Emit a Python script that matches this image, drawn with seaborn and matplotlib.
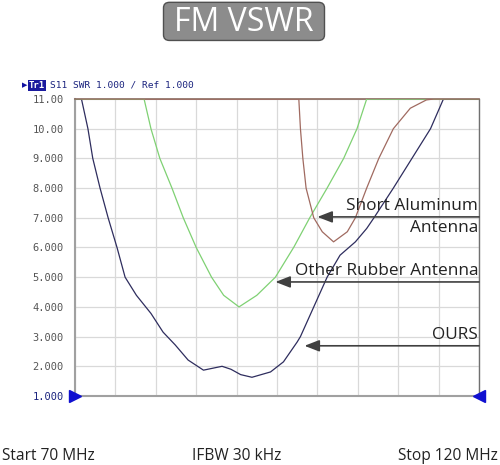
import numpy as np
import pandas as pd
import matplotlib
matplotlib.use("Agg")
import matplotlib.pyplot as plt
import seaborn as sns
from matplotlib.patches import FancyBboxPatch

# frequency (MHz) / SWR points
ours_f = [70.0, 70.8, 71.6, 72.2, 73.1, 74.1, 75.2, 76.2, 77.6, 79.4, 80.9, 82.4, 84.0,
          85.9, 88.2, 89.3, 90.5, 91.9, 94.2, 95.8, 97.5, 97.9, 99.55, 101.2, 102.8,
          104.7, 106.1, 107.0, 109.4, 111.7, 114.0, 115.6, 120.0]
ours_s = [11.0, 11.0, 10.0, 9.0, 8.0, 7.0, 6.0, 5.0, 4.39, 3.78, 3.15, 2.72, 2.21,
          1.87, 2.0, 1.9, 1.72, 1.63, 1.81, 2.15, 2.82, 3.0, 4.0, 5.0, 5.74,
          6.19, 6.64, 7.0, 8.0, 9.0, 10.0, 11.0, 11.0]

rubber_f = [70.0, 78.55, 79.4, 80.5, 82.0, 83.4, 85.0, 86.9, 88.4, 90.3, 92.5, 94.8,
            97.1, 99.05, 101.2, 103.25, 104.9, 106.1, 120.0]
rubber_s = [11.0, 11.0, 10.0, 9.0, 8.0, 7.0, 6.0, 5.0, 4.39, 4.0, 4.39, 5.0,
            6.02, 7.0, 8.0, 9.0, 10.0, 11.0, 11.0]

alu_f = [70.0, 97.7, 97.9, 98.2, 98.6, 99.55, 100.6, 102.0, 103.7, 104.7, 106.1,
         107.6, 109.4, 111.5, 113.5, 114.4, 120.0]
alu_s = [11.0, 11.0, 10.0, 9.0, 8.0, 7.0, 6.53, 6.19, 6.53, 7.0, 8.0,
         9.0, 10.0, 10.69, 10.97, 11.0, 11.0]

y_ticks = [11, 10, 9, 8, 7, 6, 5, 4, 3, 2, 1]
y_labels = ["11.00", "10.00", "9.000", "8.000", "7.000", "6.000",
            "5.000", "4.000", "3.000", "2.000", "1.000"]

# label, arrow tip (MHz, SWR)
notes = [("Short Aluminum\nAntenna", 100.0, 7.03),
         ("Other Rubber Antenna", 94.8, 4.84),
         ("OURS", 98.4, 2.69)]

df = pd.concat([
    pd.DataFrame({"f": ours_f, "swr": ours_s, "trace": "ours"}),
    pd.DataFrame({"f": rubber_f, "swr": rubber_s, "trace": "rubber"}),
    pd.DataFrame({"f": alu_f, "swr": alu_s, "trace": "alu"}),
])

sns.set_style("white")
plt.rcParams['font.family'] = ['Open Sans', 'DejaVu Sans']

fig = plt.figure(figsize=(5, 4.65), dpi=100)
ax = fig.add_axes([0.15, 0.1484, 0.808, 0.6387])

pal = {"ours": "#2e2d5e", "rubber": "#7fd173", "alu": "#a06a60"}
sns.lineplot(data=df, x="f", y="swr", hue="trace", palette=pal, sort=False,
             estimator=None, lw=0.9, legend=False, ax=ax, zorder=3)

ax.set_xlim(70, 120)
ax.set_ylim(1, 11)
ax.set_xticks(np.arange(70, 121, 5))
ax.set_yticks(y_ticks)
ax.set_yticklabels(y_labels, family="DejaVu Sans Mono", fontsize=7.5, color="#555555")
ax.get_yticklabels()[-1].set_color("#1a237e")
ax.tick_params(axis="x", labelbottom=False, length=0)
ax.tick_params(axis="y", length=0, pad=8)
ax.grid(True, color="#d9d9d9", lw=0.9)
ax.set_xlabel("")
ax.set_ylabel("")
for side in ["left", "bottom", "right"]:
    ax.spines[side].set_color("#a0a0a0")
    ax.spines[side].set_linewidth(1.5)
ax.spines["right"].set_color("#707070")
ax.spines["right"].set_linewidth(1.0)
ax.spines["top"].set_color("#8a6a5e")
ax.spines["top"].set_linewidth(1.2)

# blue markers on the reference line
ax.plot([70], [1], marker=">", color="#1010d0", ms=8, clip_on=False, zorder=5)
ax.plot([120], [1], marker="<", color="#1010d0", ms=8, clip_on=False, zorder=5)

# arrows and labels
for text, fx, sy in notes:
    ax.annotate("", xy=(fx, sy), xytext=(120, sy),
                arrowprops=dict(arrowstyle="-|>,head_length=0.9,head_width=0.35",
                                color="#404040", lw=1.2, shrinkA=0, shrinkB=0),
                zorder=6)
    lines = text.split("\n")
    ax.text(119.9, sy + 0.1, lines[0], ha="right", va="bottom", fontsize=12.4,
            color="#222222", zorder=7)
    if len(lines) > 1:
        ax.text(119.9, sy - 0.1, lines[1], ha="right", va="top", fontsize=12.4,
                color="#222222", zorder=7)

# title badge
box = FancyBboxPatch((0.327, 0.913), 0.322, 0.082, boxstyle="round,pad=0,rounding_size=0.012",
                     transform=fig.transFigure, fc="#8c8c8c", ec="#505050", lw=1.0)
fig.patches.append(box)
fig.text(0.488, 0.952, "FM VSWR", ha="center", va="center", fontsize=23, color="white")

# analyzer header
fig.text(0.044, 0.817, "\u25b6", fontsize=5, color="#1010a0", va="center",
         family="DejaVu Sans")
fig.text(0.058, 0.817, "Tr1", fontsize=6.5, color="white", va="center",
         family="DejaVu Sans Mono", weight="bold",
         bbox=dict(fc="#1a1a9e", ec="none", pad=0.8))
fig.text(0.1, 0.817, "S11 SWR 1.000 / Ref 1.000", fontsize=6.8, color="#1a237e",
         va="center", family="DejaVu Sans Mono")

# footer
fig.text(0.005, 0.02, "Start 70 MHz", fontsize=11.2, color="#222222", va="center")
fig.text(0.473, 0.02, "IFBW 30 kHz", fontsize=11.2, color="#222222", va="center", ha="center")
fig.text(0.995, 0.02, "Stop 120 MHz", fontsize=11.2, color="#222222", va="center", ha="right")

fig.savefig("out.png", dpi=100)
